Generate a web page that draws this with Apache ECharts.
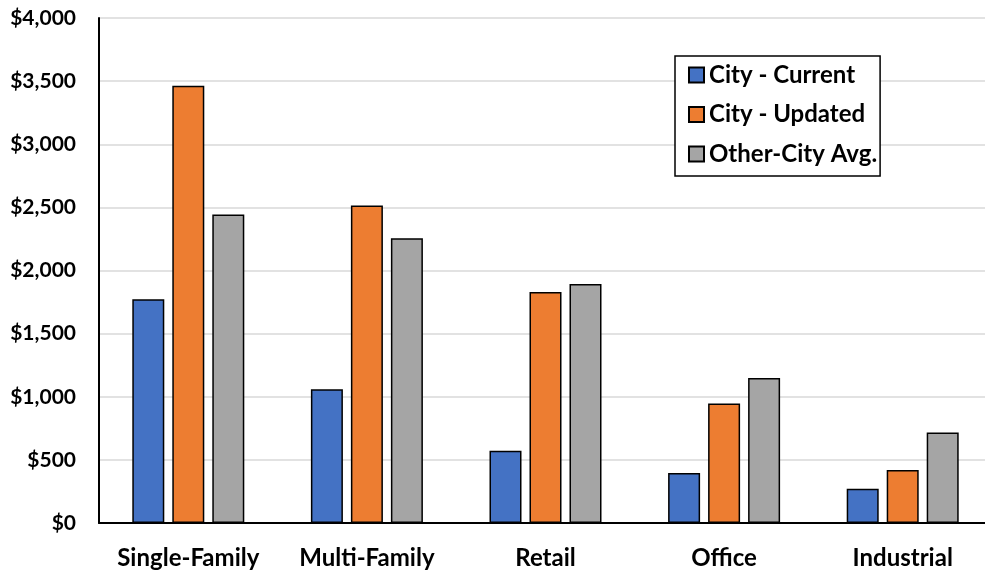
<!DOCTYPE html>
<html>
<head>
<meta charset="utf-8">
<script src="https://cdn.jsdelivr.net/npm/echarts@6/dist/echarts.min.js"></script>
<style>html,body{margin:0;padding:0;background:#fff;}#c{width:985px;height:575px;}</style>
</head>
<body>
<div id="c"></div>
<script>
const categories = ['Single-Family', 'Multi-Family', 'Retail', 'Office', 'Industrial'];
const seriesNames = ['City - Current', 'City - Updated', 'Other-City Avg.'];
const cityCurrent = [1772, 1059, 573, 396, 272];
const cityUpdated = [3463, 2514, 1830, 946, 420];
const otherCityAvg = [2443, 2256, 1894, 1149, 716];
const colors = ['#4472C4', '#ED7D31', '#A5A5A5'];

const FONT = 'Lato';
const chart = echarts.init(document.getElementById('c'));
const dataSets = [cityCurrent, cityUpdated, otherCityAvg];
chart.setOption({
  animation: false,
  backgroundColor: '#fff',
  grid: { left: 99, width: 893, top: 18, bottom: 52, containLabel: false, outerBoundsMode: 'none' },
  legend: {
    orient: 'vertical',
    left: 675, top: 56,
    padding: [7, 3, 10, 13],
    itemGap: 15.5,
    itemWidth: 15, itemHeight: 15,
    borderColor: '#000', borderWidth: 1.5,
    backgroundColor: '#fff',
    textStyle: { fontFamily: FONT, fontWeight: 'bold', fontSize: 24, color: '#000', lineHeight: 24 },
    data: seriesNames.map(n => ({ name: n, icon: 'rect' }))
  },
  xAxis: {
    type: 'category',
    data: categories,
    axisLine: { lineStyle: { color: '#000', width: 2 } },
    axisTick: { show: false },
    axisLabel: { interval: 0, margin: 23, fontFamily: FONT, fontWeight: 'bold', fontSize: 24, color: '#000' }
  },
  yAxis: {
    type: 'value',
    min: 0, max: 4000, interval: 500,
    axisLine: { show: true, lineStyle: { color: '#000', width: 2 } },
    axisTick: { show: false },
    splitLine: { lineStyle: { color: '#D9D9D9', width: 1.5 } },
    axisLabel: {
      margin: 23, fontFamily: FONT, fontWeight: 'bold', fontSize: 21, color: '#000',
      formatter: v => '$' + v.toLocaleString('en-US')
    }
  },
  series: seriesNames.map((name, i) => ({
    name,
    type: 'bar',
    data: dataSets[i],
    barWidth: 32,
    barGap: '25%',
    itemStyle: { color: colors[i], borderColor: '#000', borderWidth: 1.5 }
  }))
});
</script>
</body>
</html>
